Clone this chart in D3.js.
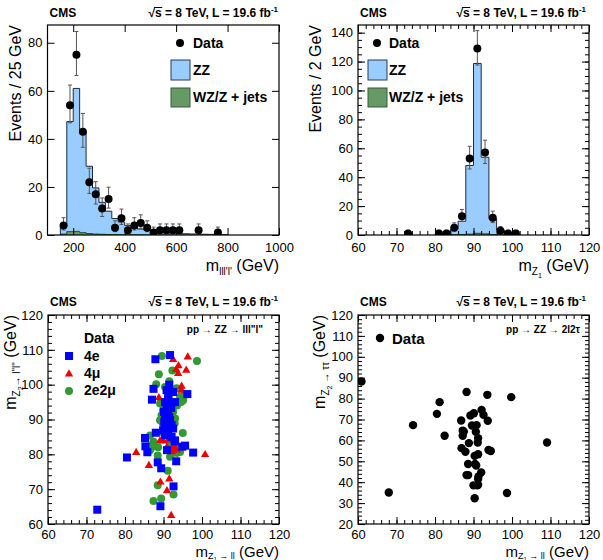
<!DOCTYPE html>
<html>
<head>
<meta charset="utf-8">
<script src="https://cdn.jsdelivr.net/npm/d3@7"></script>
<style>
  body { margin: 0; background: #fff; }
  svg text { font-family: "Liberation Sans", Arial, sans-serif; }
</style>
</head>
<body>
<div id="chart"></div>
<script>
const W = 603, H = 560;

// ---- top left: m(4l) distribution, 25 GeV bins ----
const m4lBinLow = [150, 175, 200, 225, 250, 275, 300, 325, 350, 375, 400, 425, 450,
                   475, 500, 525, 550, 575, 600, 625, 650, 675, 700, 725, 750, 775];
const m4lZZ     = [3.1, 45.8, 59.5, 42.2, 28.0, 19.2, 13.3, 9.7, 6.7, 5.3, 3.8, 3.0, 2.4,
                   1.9, 1.4, 1.1, 0.9, 0.75, 0.6, 0.5, 0.42, 0.35, 0.3, 0.25, 0.2, 0.15];
const m4lBkg    = [0.4, 1.4, 1.5, 1.0, 0.6, 0.4, 0.3, 0.2, 0.15, 0.1, 0.1, 0.08, 0.06,
                   0.05, 0.04, 0.03, 0.02, 0.02, 0.02, 0.01, 0.01, 0.01, 0.01, 0.01, 0.01, 0.01];
const m4lDataX  = [162.5, 187.5, 212.5, 237.5, 262.5, 287.5, 312.5, 337.5, 362.5, 387.5, 412.5,
                   437.5, 462.5, 487.5, 512.5, 537.5, 562.5, 587.5, 612.5, 687.5, 762.5];
const m4lData   = [4, 54, 75, 43, 22, 17, 11, 15, 3, 7, 2, 4, 5, 3, 1, 2, 2, 2, 2, 2, 1];
const m4lErrHi  = [3.2, 8.4, 9.7, 7.6, 5.8, 5.2, 4.4, 4.9, 2.9, 3.8, 2.6, 3.2, 3.4, 2.9, 2.3,
                   2.6, 2.6, 2.6, 2.6, 2.6, 2.3];
const m4lErrLo  = [1.9, 7.3, 8.6, 6.5, 4.7, 4.1, 3.3, 3.8, 1.6, 2.6, 1.3, 1.9, 2.2, 1.6, 0.8,
                   1.3, 1.3, 1.3, 1.3, 1.3, 0.8];

// ---- top right: m(Z1) distribution, 2 GeV bins ----
const mZ1BinLow = [80, 82, 84, 86, 88, 90, 92, 94, 96, 98, 100];
const mZ1ZZ     = [0.3, 1.0, 3.8, 9.2, 47.5, 117.5, 53.0, 11.0, 3.2, 1.0, 0.3];
const mZ1Bkg    = [0.0, 0.1, 0.2, 0.3, 0.6, 1.2, 0.8, 0.3, 0.1, 0.05, 0.0];
const mZ1DataX  = [73, 81, 83, 85, 87, 89, 91, 93, 95, 97, 99, 101];
const mZ1Data   = [1, 1, 1, 5, 13, 53, 129, 57, 12, 3, 1, 1];
const mZ1ErrHi  = [2.3, 2.3, 2.3, 3.4, 4.7, 8.4, 12.4, 8.6, 4.5, 2.9, 2.3, 2.3];
const mZ1ErrLo  = [0.8, 0.8, 0.8, 2.2, 3.6, 7.3, 11.4, 7.5, 3.4, 1.6, 0.8, 0.8];

// ---- bottom left: m(Z2) vs m(Z1), 4l channels ----
const pts4e = [[72.8,64.1],[80.5,79.1],[85.2,84.7],[85.3,82.3],[85.8,80.6],[87.9,107.3],[91.7,108.5],
  [87.4,98.8],[87.0,95.7],[96.2,97.3],[88.0,86.2],[88.5,77.7],[89.4,76.0],[89.2,65.1],[92.6,70.8],
  [93.3,78.0],[97.7,80.5],[95.6,82.5],[94.9,82.2],[90.9,81.2],[92.9,83.7],[91.5,100.0],[90.8,98.4],
  [92.5,97.9],[91.2,97.0],[90.4,95.0],[93.0,95.0],[90.8,93.6],[91.2,91.7],[90.4,90.3],[91.7,89.8],
  [90.4,88.4],[92.1,88.4],[89.9,86.9],[91.2,86.9],[92.5,87.4],[90.4,85.5],[92.1,85.0],[93.0,84.0],
  [91.0,92.8],[90.2,89.3],[91.8,94.2],[90.9,87.8],[91.3,96.0],[90.6,91.2],[91.5,90.7],[92.0,93.3],
  [90.1,92.2]];
const pts4mu = [[92.0,62.4],[89.2,72.0],[91.5,72.9],[90.9,69.5],[86.2,76.8],[82.9,80.5],[100.8,79.9],
  [92.5,81.3],[90.9,82.0],[89.9,83.8],[88.8,96.2],[92.5,107.2],[96.3,107.9],[93.9,105.4],[93.3,104.3],
  [95.9,104.1],[94.7,99.5],[93.8,103.2],[94.7,98.4],[91.2,84.1],[92.5,82.1],[93.4,81.2],[92.1,80.7],
  [89.1,83.9],[92.7,82.3]];
const pts2e2mu = [[89.6,108.2],[92.3,104.1],[98.7,106.8],[88.8,103.0],[88.1,100.1],[90.4,99.3],
  [93.4,99.0],[94.3,96.5],[95.6,97.0],[95.1,95.5],[89.1,94.6],[89.9,92.7],[89.5,91.2],[89.1,89.8],
  [92.5,92.2],[93.0,90.3],[89.8,88.9],[92.9,88.9],[89.5,86.4],[95.0,86.1],[86.5,85.4],[87.4,83.6],
  [87.0,82.1],[88.6,82.0],[91.7,83.1],[93.8,82.1],[94.3,80.7],[93.4,80.4],[88.5,79.7],[91.7,79.3],
  [91.1,75.3],[88.5,71.1],[92.6,68.5],[89.4,67.3],[87.4,66.6],[86.5,81.2],[87.0,82.6],[94.1,80.9],
  [91.5,101.0],[94.6,95.0],[93.5,94.0]];

// ---- bottom right: m(Z2->tautau) vs m(Z1) ----
const ptsTau = [[60.9,88.2],[68.0,35.1],[74.3,67.3],[80.5,72.7],[81.2,78.3],[82.5,62.2],[88.2,83.2],
  [93.6,81.8],[99.8,80.7],[109.1,59.0],[98.7,34.8],[90.3,32.3],[86.8,69.5],[89.2,71.9],[90.1,73.0],
  [92.1,74.6],[92.6,72.2],[93.7,69.4],[87.2,64.7],[87.5,64.2],[87.2,62.2],[89.6,67.1],[90.8,67.3],
  [90.6,64.1],[91.2,61.1],[91.1,59.0],[88.8,58.7],[86.9,56.3],[87.9,54.6],[90.3,52.6],[91.2,53.4],
  [93.9,55.4],[94.5,54.9],[88.6,48.7],[90.4,48.7],[90.7,48.0],[88.2,43.4],[88.6,43.4],[92.0,44.7],
  [91.3,42.8],[91.2,41.5],[90.0,38.5],[91.0,38.5],[91.2,38.8]];

const ZZ_FILL = "#99ccff", BKG_FILL = "#669966";

const svg = d3.select("#chart").append("svg")
              .attr("width", W)
              .attr("height", H);

// small helper: text built from parts with baseline shifts
function richText(sel, parts) {
    parts.forEach(p => {
        const t = sel.append("tspan").text(p.t);
        if (p.size) t.attr("font-size", p.size);
        if (p.shift) t.attr("baseline-shift", p.shift);
    });
    return sel;
}

function header(x0, x1, yb) {
    svg.append("text").attr("x", x0 + 2).attr("y", yb)
       .attr("font-size", 12).attr("font-weight", "bold").text("CMS");
    const t = svg.append("text").attr("x", x1 - 1).attr("y", yb)
       .attr("text-anchor", "end").attr("font-size", 12).attr("font-weight", "bold");
    richText(t, [{t: "\u221As = 8 TeV, L = 19.6 fb"}, {t: "-1", size: 8, shift: 5}]);
    // overline of the square root
    const n = t.node();
    const a = n.getEndPositionOfChar(0), b = n.getEndPositionOfChar(1);
    svg.append("line").attr("x1", a.x - 1).attr("x2", b.x + 0.5)
       .attr("y1", yb - 9.5).attr("y2", yb - 9.5)
       .attr("stroke", "#000").attr("stroke-width", 1);
}

function makePanel(cfg) {
    const x = d3.scaleLinear().domain(cfg.xDomain).range([cfg.left, cfg.right]);
    const y = d3.scaleLinear().domain(cfg.yDomain).range([cfg.bottom, cfg.top]);
    const g = svg.append("g");
    const clipId = "clip" + cfg.id;
    svg.append("clipPath").attr("id", clipId).append("rect")
       .attr("x", cfg.left).attr("y", cfg.top)
       .attr("width", cfg.right - cfg.left).attr("height", cfg.bottom - cfg.top);
    const plot = g.append("g").attr("clip-path", `url(#${clipId})`);

    const noDomain = s => s.select(".domain").remove();
    const tickStyle = s => s.selectAll("line").attr("stroke", "#000");

    // major ticks with labels
    g.append("g").attr("transform", `translate(0,${cfg.bottom})`)
     .call(d3.axisBottom(x).tickValues(cfg.xTicks).tickSize(-7).tickPadding(cfg.xPad || 8)
             .tickFormat(d3.format("d")))
     .call(noDomain).call(tickStyle)
     .selectAll("text").attr("font-size", 13).attr("fill", "#000")
     .attr("font-family", "Liberation Sans, Arial, sans-serif");
    g.append("g").attr("transform", `translate(${cfg.left},0)`)
     .call(d3.axisLeft(y).tickValues(cfg.yTicks).tickSize(-7).tickPadding(5).tickFormat(d3.format("d")))
     .call(noDomain).call(tickStyle)
     .selectAll("text").attr("font-size", 13).attr("fill", "#000")
     .attr("font-family", "Liberation Sans, Arial, sans-serif");
    // mirrored ticks
    g.append("g").attr("transform", `translate(0,${cfg.top})`)
     .call(d3.axisTop(x).tickValues(cfg.xTicks).tickSize(-7).tickFormat(""))
     .call(noDomain).call(tickStyle);
    g.append("g").attr("transform", `translate(${cfg.right},0)`)
     .call(d3.axisRight(y).tickValues(cfg.yTicks).tickSize(-7).tickFormat(""))
     .call(noDomain).call(tickStyle);
    // minor ticks
    if (cfg.xMinor) {
        g.append("g").attr("transform", `translate(0,${cfg.bottom})`)
         .call(d3.axisBottom(x).tickValues(cfg.xMinor).tickSize(-4).tickFormat(""))
         .call(noDomain).call(tickStyle);
        g.append("g").attr("transform", `translate(0,${cfg.top})`)
         .call(d3.axisTop(x).tickValues(cfg.xMinor).tickSize(-4).tickFormat(""))
         .call(noDomain).call(tickStyle);
    }
    if (cfg.yMinor) {
        g.append("g").attr("transform", `translate(${cfg.left},0)`)
         .call(d3.axisLeft(y).tickValues(cfg.yMinor).tickSize(-4).tickFormat(""))
         .call(noDomain).call(tickStyle);
        g.append("g").attr("transform", `translate(${cfg.right},0)`)
         .call(d3.axisRight(y).tickValues(cfg.yMinor).tickSize(-4).tickFormat(""))
         .call(noDomain).call(tickStyle);
    }

    // frame
    g.append("rect").attr("x", cfg.left).attr("y", cfg.top)
     .attr("width", cfg.right - cfg.left).attr("height", cfg.bottom - cfg.top)
     .attr("fill", "none").attr("stroke", "#000").attr("stroke-width", 1.2);

    // axis titles
    const xt = g.append("text").attr("x", cfg.right).attr("y", cfg.xTitleY)
                .attr("text-anchor", "end").attr("font-size", cfg.xTitleSize || 16);
    richText(xt, cfg.xTitle);
    const yt = g.append("text")
                .attr("transform", `translate(${cfg.yTitleX},${cfg.top}) rotate(-90)`)
                .attr("text-anchor", "end").attr("font-size", 16);
    richText(yt, cfg.yTitle);

    return {x, y, g, plot};
}

function drawHist(p, binLow, width, values, base, fill, stroke) {
    const pts = binLow.map((lo, i) => [lo, values[i] + base[i]]);
    pts.push([binLow[binLow.length - 1] + width, pts[pts.length - 1][1]]);
    const area = d3.area().curve(d3.curveStepAfter)
                   .x(d => p.x(d[0])).y0(p.y(0)).y1(d => p.y(d[1]));
    p.plot.append("path").attr("d", area(pts)).attr("fill", fill);
    const outline = [[binLow[0], 0]].concat(pts).concat([[pts[pts.length - 1][0], 0]]);
    const line = d3.line().curve(d3.curveStepAfter).x(d => p.x(d[0])).y(d => p.y(d[1]));
    p.plot.append("path").attr("d", line(outline)).attr("fill", "none")
          .attr("stroke", stroke).attr("stroke-width", 1);
}

function drawData(p, xs, vals, hi, lo) {
    const gd = p.plot.append("g");
    xs.forEach((xv, i) => {
        const cx = p.x(xv);
        const yt = p.y(vals[i] + hi[i]), yb = p.y(vals[i] - lo[i]);
        gd.append("line").attr("x1", cx).attr("x2", cx).attr("y1", yt).attr("y2", yb)
          .attr("stroke", "#555").attr("stroke-width", 1);
        [yt, yb].forEach(yy => gd.append("line").attr("x1", cx - 2).attr("x2", cx + 2)
          .attr("y1", yy).attr("y2", yy).attr("stroke", "#555").attr("stroke-width", 1));
        gd.append("circle").attr("cx", cx).attr("cy", p.y(vals[i])).attr("r", 4).attr("fill", "#000");
    });
}

function histLegend(x0, xText) {
    svg.append("circle").attr("cx", x0 + 9).attr("cy", 43).attr("r", 4).attr("fill", "#000");
    svg.append("text").attr("x", xText).attr("y", 48).attr("font-size", 14)
       .attr("font-weight", "bold").text("Data");
    svg.append("rect").attr("x", x0).attr("y", 60).attr("width", 19).attr("height", 20)
       .attr("fill", ZZ_FILL).attr("stroke", "#2a3a55").attr("stroke-width", 1);
    svg.append("text").attr("x", xText).attr("y", 75).attr("font-size", 14)
       .attr("font-weight", "bold").text("ZZ");
    svg.append("rect").attr("x", x0).attr("y", 88).attr("width", 19).attr("height", 19)
       .attr("fill", BKG_FILL).attr("stroke", "#3a5a3a").attr("stroke-width", 1);
    svg.append("text").attr("x", xText).attr("y", 102).attr("font-size", 14)
       .attr("font-weight", "bold").text("WZ/Z + jets");
}

// ===== top left =====
const pTL = makePanel({
    id: "TL", left: 47.5, right: 279, top: 25, bottom: 235,
    xDomain: [100, 1000], yDomain: [0, 87.4],
    xTicks: [200, 400, 600, 800, 1000], yTicks: [0, 20, 40, 60, 80],
    xTitleY: 271, yTitleX: 21,
    xTitle: [{t: "m"}, {t: "lll'l'", size: 10, shift: -4}, {t: " (GeV)"}],
    yTitle: [{t: "Events / 25 GeV"}]
});
drawHist(pTL, m4lBinLow, 25, m4lZZ, m4lBkg, ZZ_FILL, "#1a2a45");
drawHist(pTL, m4lBinLow, 25, m4lBkg, m4lBinLow.map(() => 0), BKG_FILL, "#2f4f2f");
drawData(pTL, m4lDataX, m4lData, m4lErrHi, m4lErrLo);
histLegend(171, 193);
header(47.5, 279, 17);

// ===== top right =====
const pTR = makePanel({
    id: "TR", left: 358, right: 589, top: 25, bottom: 235,
    xDomain: [60, 120], yDomain: [0, 145.3],
    xTicks: [60, 70, 80, 90, 100, 110, 120], yTicks: [0, 20, 40, 60, 80, 100, 120, 140],
    xMinor: d3.range(62, 120, 2), yMinor: d3.range(5, 145, 5),
    xTitleY: 271, yTitleX: 321,
    xTitle: [{t: "m"}, {t: "Z", size: 10, shift: -4}, {t: "1", size: 7, shift: -7}, {t: " (GeV)"}],
    yTitle: [{t: "Events / 2 GeV"}]
});
drawHist(pTR, mZ1BinLow, 2, mZ1ZZ, mZ1Bkg, ZZ_FILL, "#1a2a45");
drawHist(pTR, mZ1BinLow, 2, mZ1Bkg, mZ1BinLow.map(() => 0), BKG_FILL, "#2f4f2f");
drawData(pTR, mZ1DataX, mZ1Data, mZ1ErrHi, mZ1ErrLo);
histLegend(368, 389);
header(358, 587, 17);

// ===== bottom left =====
const pBL = makePanel({
    id: "BL", left: 48, right: 279, top: 315, bottom: 524,
    xDomain: [60, 120], yDomain: [60, 120],
    xTicks: [60, 70, 80, 90, 100, 110, 120], yTicks: [60, 70, 80, 90, 100, 110, 120],
    xMinor: d3.range(62, 120, 2), yMinor: d3.range(62, 120, 2),
    xPad: 6, xTitleY: 556.5, xTitleSize: 15, yTitleX: 16,
    xTitle: [{t: "m"}, {t: "Z", size: 9, shift: -2}, {t: "1", size: 6, shift: -4},
             {t: " \u2192 ll", size: 9, shift: -2}, {t: " (GeV)"}],
    yTitle: [{t: "m"}, {t: "Z", size: 10, shift: -4}, {t: "2", size: 7, shift: -7},
             {t: "\u2192 l\"l\"", size: 10, shift: -4}, {t: " (GeV)"}]
});
pBL.plot.append("g").selectAll("circle").data(pts2e2mu).join("circle")
   .attr("cx", d => pBL.x(d[0])).attr("cy", d => pBL.y(d[1])).attr("r", 4)
   .attr("fill", "#339933");
pBL.plot.append("g").selectAll("path").data(pts4mu).join("path")
   .attr("d", d3.symbol(d3.symbolTriangle, 30))
   .attr("transform", d => `translate(${pBL.x(d[0])},${pBL.y(d[1])})`)
   .attr("fill", "#ee0000");
pBL.plot.append("g").selectAll("rect").data(pts4e).join("rect")
   .attr("x", d => pBL.x(d[0]) - 4).attr("y", d => pBL.y(d[1]) - 4)
   .attr("width", 8).attr("height", 8).attr("fill", "#0000ff");
svg.append("text").attr("x", 84).attr("y", 343).attr("font-size", 14)
   .attr("font-weight", "bold").text("Data");
svg.append("rect").attr("x", 65).attr("y", 352).attr("width", 8).attr("height", 8).attr("fill", "#0000ff");
svg.append("text").attr("x", 84).attr("y", 361).attr("font-size", 14).attr("font-weight", "bold").text("4e");
svg.append("path").attr("d", d3.symbol(d3.symbolTriangle, 30))
   .attr("transform", "translate(69,374)").attr("fill", "#ee0000");
svg.append("text").attr("x", 84).attr("y", 378).attr("font-size", 14).attr("font-weight", "bold").text("4\u03BC");
svg.append("circle").attr("cx", 69).attr("cy", 391).attr("r", 4).attr("fill", "#339933");
svg.append("text").attr("x", 84).attr("y", 395).attr("font-size", 14).attr("font-weight", "bold").text("2e2\u03BC");
svg.append("text").attr("x", 263).attr("y", 333).attr("text-anchor", "end")
   .attr("font-size", 10).attr("font-weight", "bold").text("pp \u2192 ZZ \u2192 lll\"l\"");
header(48, 279, 306);

// ===== bottom right =====
const pBR = makePanel({
    id: "BR", left: 358, right: 589, top: 315, bottom: 524,
    xDomain: [60, 120], yDomain: [20, 120],
    xTicks: [60, 70, 80, 90, 100, 110, 120], yTicks: [20, 30, 40, 50, 60, 70, 80, 90, 100, 110, 120],
    xMinor: d3.range(62, 120, 2), yMinor: d3.range(22, 120, 2),
    xPad: 6, xTitleY: 556.5, xTitleSize: 15, yTitleX: 325,
    xTitle: [{t: "m"}, {t: "Z", size: 9, shift: -2}, {t: "1", size: 6, shift: -4},
             {t: " \u2192 ll", size: 9, shift: -2}, {t: " (GeV)"}],
    yTitle: [{t: "m"}, {t: "Z", size: 10, shift: -4}, {t: "2", size: 7, shift: -7},
             {t: " \u2192 \u03C4\u03C4", size: 10, shift: -4}, {t: " (GeV)"}]
});
pBR.plot.append("g").selectAll("circle").data(ptsTau).join("circle")
   .attr("cx", d => pBR.x(d[0])).attr("cy", d => pBR.y(d[1])).attr("r", 4.2)
   .attr("fill", "#000");
svg.append("circle").attr("cx", 380).attr("cy", 338).attr("r", 4.2).attr("fill", "#000");
svg.append("text").attr("x", 392).attr("y", 344).attr("font-size", 15)
   .attr("font-weight", "bold").text("Data");
svg.append("text").attr("x", 580).attr("y", 333).attr("text-anchor", "end")
   .attr("font-size", 10).attr("font-weight", "bold").text("pp \u2192 ZZ \u2192 2l2\u03C4");
header(358, 587, 306);
</script>
</body>
</html>
